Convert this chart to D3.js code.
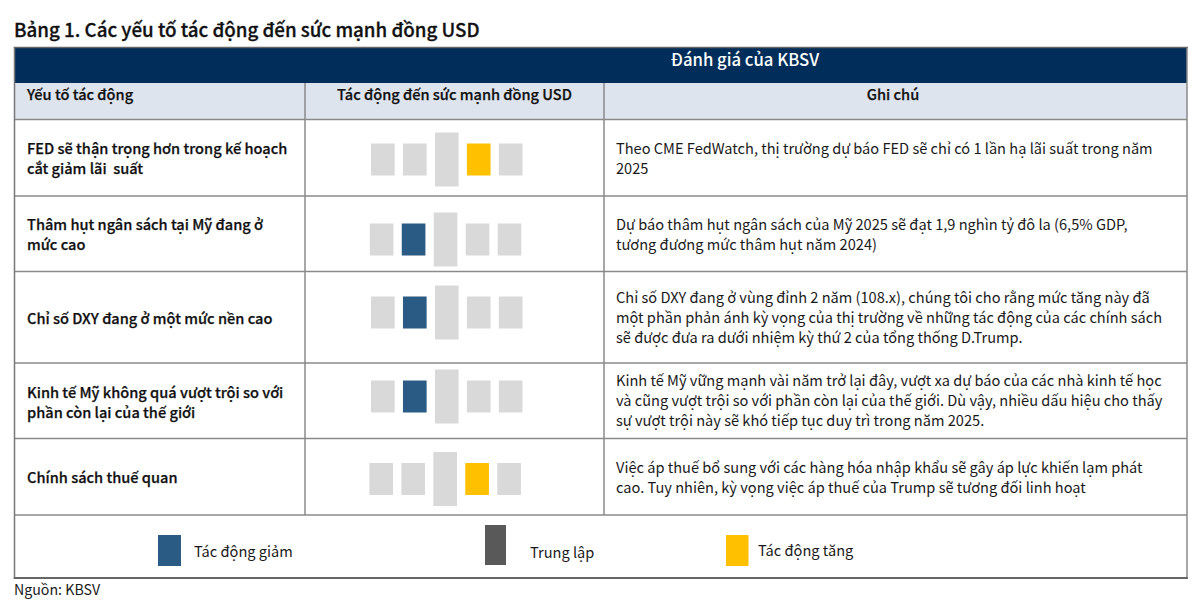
<!DOCTYPE html>
<html><head><meta charset="utf-8">
<script src="https://cdn.jsdelivr.net/npm/d3@7"></script>
<style>
html,body{margin:0;padding:0;background:#fff}
svg{display:block}
text{font-family:"Noto Sans CJK JP","Noto Sans CJK SC","Noto Sans",sans-serif;fill:#1a1a1a}
</style></head><body>
<svg id="c" width="1200" height="602"></svg>
<script>
const titleText = "Bảng 1. Các yếu tố tác động đến sức mạnh đồng USD";
const bannerText = "Đánh giá của KBSV";
const columnHeads = ["Yếu tố tác động", "Tác động đến sức mạnh đồng USD", "Ghi chú"];
const factors = [
  ["FED sẽ thận trọng hơn trong kế hoạch", "cắt giảm lãi  suất"],
  ["Thâm hụt ngân sách tại Mỹ đang ở", "mức cao"],
  ["Chỉ số DXY đang ở một mức nền cao"],
  ["Kinh tế Mỹ không quá vượt trội so với", "phần còn lại của thế giới"],
  ["Chính sách thuế quan"]
];
const notes = [
  ["Theo CME FedWatch, thị trường dự báo FED sẽ chỉ có 1 lần hạ lãi suất trong năm", "2025"],
  ["Dự báo thâm hụt ngân sách của Mỹ 2025 sẽ đạt 1,9 nghìn tỷ đô la (6,5% GDP,", "tương đương mức thâm hụt năm 2024)"],
  ["Chỉ số DXY đang ở vùng đỉnh 2 năm (108.x), chúng tôi cho rằng mức tăng này đã", "một phần phản ánh kỳ vọng của thị trường về những tác động của các chính sách", "sẽ được đưa ra dưới nhiệm kỳ thứ 2 của tổng thống D.Trump."],
  ["Kinh tế Mỹ vững mạnh vài năm trở lại đây, vượt xa dự báo của các nhà kinh tế học", "và cũng vượt trội so với phần còn lại của thế giới. Dù vậy, nhiều dấu hiệu cho thấy", "sự vượt trội này sẽ khó tiếp tục duy trì trong năm 2025."],
  ["Việc áp thuế bổ sung với các hàng hóa nhập khẩu sẽ gây áp lực khiến lạm phát", "cao. Tuy nhiên, kỳ vọng việc áp thuế của Trump sẽ tương đối linh hoạt"]
];
const scaleSlots = [-2, -1, 0, 1, 2];
const impacts = [1, -1, -1, -1, 1];
const legendKeys = [-1, 0, 1];
const legendLabels = ["Tác động giảm", "Trung lập", "Tác động tăng"];
const sourceText = "Nguồn: KBSV";

const svg = d3.select("#c");
const colX = [14.5, 305, 604, 1187];
const rowY = [119.5, 196, 271.5, 363, 438.5, 515];
const LINE = "#8a8a8a", NAVY = "#002d59", HEAD = "#dee4ee", IDLE = "#d9d9d9";
const impactColor = d3.scaleOrdinal().domain([-1, 0, 1]).range(["#2a5b85", "#595959", "#ffc000"]);

const slotX = d3.scaleBand().domain(scaleSlots).range([371, 522.5]).paddingInner(0.26).paddingOuter(0);
const rowNudge = [0, -1.2, 0, 0, -1.6];
const rowCenter = d3.scaleOrdinal().domain(d3.range(5)).range([159.5, 239.5, 312.5, 396.5, 479]);
const barH = d3.scaleOrdinal().domain(scaleSlots).range([32, 32, 54, 32, 32]);

svg.append("rect").attr("x", colX[0]).attr("y", 48).attr("width", colX[3]-colX[0]).attr("height", 35).attr("fill", NAVY);
svg.append("rect").attr("x", colX[0]).attr("y", 83).attr("width", colX[3]-colX[0]).attr("height", 36.5).attr("fill", HEAD);

const hl = (y, x1 = colX[0], x2 = colX[3], c = LINE, w = 1.5) => svg.append("line").attr("x1", x1).attr("x2", x2).attr("y1", y).attr("y2", y).attr("stroke", c).attr("stroke-width", w);
const vl = (x, y1, y2, c = LINE, w = 1.5) => svg.append("line").attr("x1", x).attr("x2", x).attr("y1", y1).attr("y2", y2).attr("stroke", c).attr("stroke-width", w);
rowY.forEach(y => hl(y));
[colX[1], colX[2]].forEach(x => vl(x, 83, rowY[5]));
vl(colX[0], 47, 579, "#777", 1.5);
vl(colX[3], 47, 579, "#8a8a8a", 1.5);
hl(47.5, 13.8, 1187.8, "#666", 1.5);
hl(578, 13.8, 1187.8, "#666", 2.2);

const addLines = (lines, x, cy, opts) => {
  const step = 20.2;
  lines.forEach((t, i) => {
    const el = svg.append("text").attr("x", x)
      .attr("y", cy + (i - (lines.length - 1) / 2) * step + 5.2)
      .attr("font-size", opts.size).attr("font-weight", opts.weight)
      .attr("text-anchor", opts.anchor || "start")
      .style("fill", opts.fill || null)
      .style("white-space", "pre").attr("xml:space", "preserve").text(t);
    if (opts.heavy) el.attr("stroke", opts.fill).attr("stroke-width", opts.heavy);
  });
};

addLines([titleText], 14, 31.3, {size: 18.75, weight: 500, fill: "#111", heavy: 0.3});
addLines([bannerText], 745, 61, {size: 16.7, weight: 500, anchor: "middle", fill: "#fff"});
addLines([columnHeads[0]], 27, 94.7, {size: 14.6, weight: 500, fill: "#111", heavy: 0.25});
addLines([columnHeads[1]], 454.5, 94.7, {size: 14.6, weight: 500, anchor: "middle", fill: "#111", heavy: 0.25});
addLines([columnHeads[2]], 893, 94.7, {size: 14.6, weight: 500, anchor: "middle", fill: "#111", heavy: 0.25});

factors.forEach((lines, i) => addLines(lines, 27, [158.4, 234.4, 318.4, 402.4, 477.4][i], {size: 14.6, weight: 500, fill: "#111", heavy: 0.25}));
notes.forEach((lines, i) => addLines(lines, 616, [158.4, 234.4, 318, 401, 477.4][i], {size: 14.6, weight: 400}));

const rows = svg.append("g").selectAll("g").data(impacts).join("g")
  .attr("transform", (d, i) => `translate(${rowNudge[i]},${rowCenter(i)})`);
rows.selectAll("rect").data(v => scaleSlots.map(s => ({s, v}))).join("rect")
  .attr("x", d => slotX(d.s))
  .attr("width", slotX.bandwidth())
  .attr("y", d => -barH(d.s) / 2)
  .attr("height", d => barH(d.s))
  .attr("fill", d => d.s === d.v ? impactColor(d.v) : IDLE);

const legX = d3.scaleOrdinal().domain(legendKeys).range([158, 485, 726]);
const legW = d3.scaleOrdinal().domain(legendKeys).range([23, 21, 22.5]);
const legTop = d3.scaleOrdinal().domain(legendKeys).range([535, 525, 535]);
const legH = d3.scaleOrdinal().domain(legendKeys).range([31, 40, 31]);
const legTX = d3.scaleOrdinal().domain(legendKeys).range([194, 530, 758]);
const legTY = d3.scaleOrdinal().domain(legendKeys).range([552, 553, 551]);
legendKeys.forEach((k, i) => {
  svg.append("rect").attr("x", legX(k)).attr("y", legTop(k)).attr("width", legW(k)).attr("height", legH(k)).attr("fill", impactColor(k));
  addLines([legendLabels[i]], legTX(k), legTY(k), {size: 14.6, weight: 400});
});
addLines([sourceText], 14, 590, {size: 14.2, weight: 400});
</script>
</body></html>
